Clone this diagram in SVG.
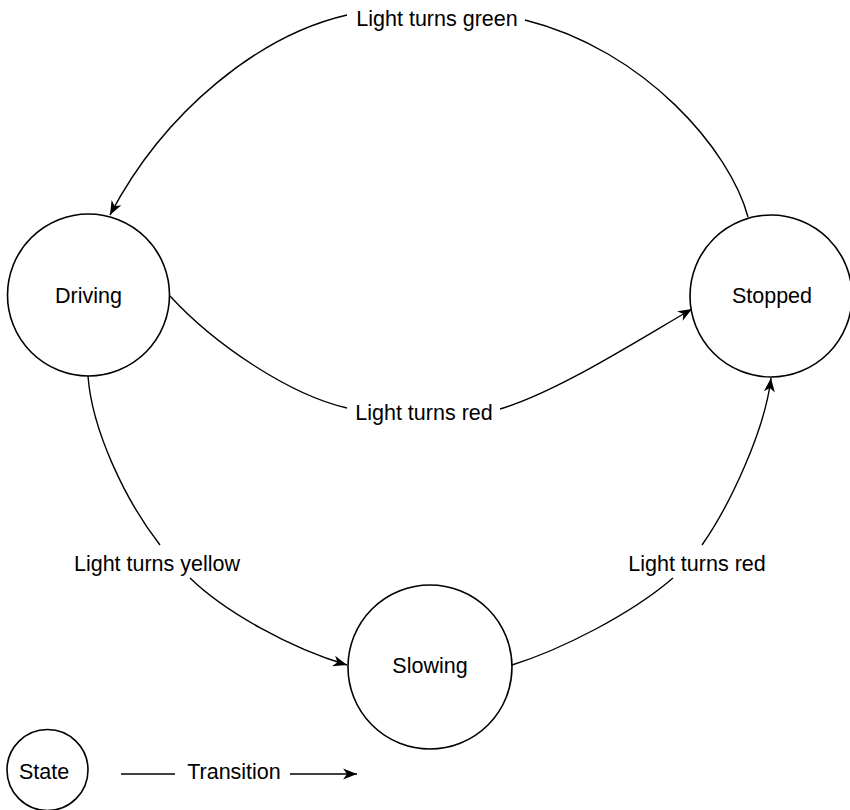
<svg xmlns="http://www.w3.org/2000/svg" width="850" height="810" viewBox="0 0 850 810">
  <style>
    .state { fill: #ffffff; stroke: #000000; stroke-width: 1.6; }
    .edge { fill: none; stroke: #000000; stroke-width: 1.4; }
    .label { font-family: "Liberation Sans", Arial, Helvetica, sans-serif; font-size: 21.5px; fill: #000000; text-anchor: middle; }
  </style>
  <defs>
    <marker id="arrow" markerUnits="userSpaceOnUse" markerWidth="16" markerHeight="12" viewBox="-14 -6 16 12" refX="0" refY="0" orient="auto">
      <path d="M0,0 L-14,-5.5 L-10,0 L-14,5.5 Z" fill="#000000"/>
    </marker>
  </defs>
  <rect width="850" height="810" fill="#ffffff"/>

  <!-- transitions -->
  <g id="connectors">
    <!-- Stopped to Driving: light turns green -->
    <path class="edge" d="M748,217 C730,150 645,50 525,20"/>
    <path class="edge" d="M347,15 C260,35 165,110 110,215" marker-end="url(#arrow)"/>
    <!-- Driving to Stopped: light turns red -->
    <path class="edge" d="M170,296 C215,345 290,395 347,408"/>
    <path class="edge" d="M500,409 C555,393 630,345 692,309" marker-end="url(#arrow)"/>
    <!-- Driving to Slowing: light turns yellow -->
    <path class="edge" d="M88,376 C92,430 125,500 160,545"/>
    <path class="edge" d="M190,578 C225,612 290,648 347,665" marker-end="url(#arrow)"/>
    <!-- Slowing to Stopped: light turns red -->
    <path class="edge" d="M512,665 C560,650 630,615 673,578"/>
    <path class="edge" d="M702,545 C730,505 765,430 771,378" marker-end="url(#arrow)"/>
    <!-- legend transition -->
    <path class="edge" d="M121,774 L175,774"/>
    <path class="edge" d="M290,774 L357,774" marker-end="url(#arrow)"/>
  </g>

  <g id="edge-labels">
    <text class="label" x="437" y="26">Light turns green</text>
    <text class="label" x="424" y="420">Light turns red</text>
    <text class="label" x="157" y="571">Light turns yellow</text>
    <text class="label" x="697" y="571">Light turns red</text>
    <text class="label" x="234" y="779">Transition</text>
  </g>

  <g id="driving">
    <circle class="state" cx="88.5" cy="295" r="81"/>
    <text class="label" x="88.5" y="303">Driving</text>
  </g>
  <g id="stopped">
    <circle class="state" cx="771" cy="296" r="81"/>
    <text class="label" x="772" y="303">Stopped</text>
  </g>
  <g id="slowing">
    <circle class="state" cx="430" cy="667" r="82"/>
    <text class="label" x="430" y="673">Slowing</text>
  </g>
  <g id="legend-state">
    <circle class="state" cx="47.5" cy="770" r="40.5"/>
    <text class="label" x="44" y="779">State</text>
  </g>
</svg>
